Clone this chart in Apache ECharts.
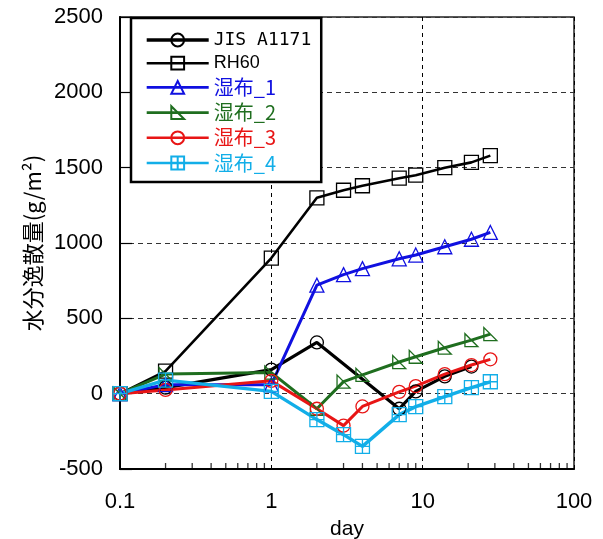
<!DOCTYPE html>
<html>
<head>
<meta charset="utf-8">
<script src="https://cdn.jsdelivr.net/npm/echarts@6/dist/echarts.min.js"></script>
<style>
  html, body { margin: 0; padding: 0; background: #fff; }
  #chart { width: 603px; height: 539px; }
</style>
</head>
<body>
<div id="chart"></div>
<script>
// Elapsed time (day) and moisture loss (g/m2) per specimen
const daysFull = [0.1, 0.2, 1, 2, 3, 4, 7, 9, 14, 21, 28];
const daysJis = [0.1, 0.2, 1, 2, 7, 9, 14, 21];

const jisA1171 = [0, 40, 160, 340, -100, 15, 115, 180];
const rh60 = [0, 150, 900, 1300, 1350, 1380, 1430, 1450, 1500, 1535, 1580];
const shippu1 = [0, 60, 60, 720, 790, 830, 895, 920, 975, 1025, 1070];
const shippu2 = [0, 130, 140, -100, 80, 125, 210, 245, 305, 355, 395];
const shippu3 = [0, 25, 85, -100, -212, -85, 12, 50, 130, 190, 228];
const shippu4 = [0, 90, 15, -172, -272, -350, -139, -86, -20, 40, 79];

const seriesNames = ['JIS A1171', 'RH60', '湿布_1', '湿布_2', '湿布_3', '湿布_4'];

// x-axis decade labels and minor tick positions (2..9 of each decade)
const xTickLabels = [0.1, 1, 10, 100];
const minorTickDays = [0.2, 0.3, 0.4, 0.5, 0.6, 0.7, 0.8, 0.9,
                       2, 3, 4, 5, 6, 7, 8, 9,
                       20, 30, 40, 50, 60, 70, 80, 90];
const yMin = -500, yMax = 2500, yStep = 500;

const pair = (xs, ys) => xs.map((x, i) => [x, ys[i]]);

const numFont = 'Liberation Sans, Arial, sans-serif';
const cjkFont = 'Noto Sans CJK JP, sans-serif';

function lineSeries(name, xs, ys, color, symbol, size, width) {
  return {
    name: name,
    type: 'line',
    data: pair(xs, ys),
    symbol: symbol,
    symbolSize: size,
    showAllSymbol: true,
    clip: false,
    lineStyle: { color: color, width: width },
    itemStyle: { color: 'rgba(0,0,0,0)', borderColor: color, borderWidth: 1.3 },
    emphasis: { disabled: true },
    z: 3
  };
}

function legendItem(name, color, font, size, width) {
  return {
    name: name,
    textStyle: { color: color, fontFamily: font, fontSize: size },
    lineStyle: { width: width }
  };
}

const rightTri = 'path://M0,0L0,10L10,10Z';
const crossSquare = 'path://M0,0H10V10H0Z M5,0V10 M0,5H10';

const chart = echarts.init(document.getElementById('chart'), null, { renderer: 'canvas' });

chart.setOption({
  animation: false,
  backgroundColor: '#fff',
  grid: {
    left: 120, right: 29, top: 17, bottom: 70,
    outerBoundsMode: 'none',
    containLabel: false,
    show: true, borderColor: '#222', borderWidth: 1.5
  },
  legend: {
    orient: 'vertical',
    left: 131, top: 18,
    padding: [13, 10, 9, 14],
    backgroundColor: '#fff',
    borderColor: '#000',
    borderWidth: 2.5,
    borderRadius: 0,
    itemWidth: 62,
    itemHeight: 16,
    itemGap: 5.2,
    itemTextGap: 5,
    z: 10,
    selectedMode: false,
    data: [
      legendItem(seriesNames[0], '#000', 'DejaVu Sans Mono, monospace', 18, 3.4),
      legendItem(seriesNames[1], '#000', numFont, 18, 2.6),
      legendItem(seriesNames[2], '#1010e0', cjkFont, 20, 2.6),
      legendItem(seriesNames[3], '#1f6e1f', cjkFont, 20, 2.6),
      legendItem(seriesNames[4], '#e81515', cjkFont, 20, 2.6),
      legendItem(seriesNames[5], '#12aee8', cjkFont, 20, 2.6)
    ]
  },
  xAxis: {
    type: 'log',
    logBase: 10,
    min: 0.1,
    max: 100,
    name: 'day',
    nameLocation: 'middle',
    nameGap: 50,
    nameTextStyle: { color: '#000', fontFamily: numFont, fontSize: 21 },
    axisLine: { show: true, onZero: false, lineStyle: { color: '#000', width: 2 } },
    axisTick: { show: false },
    axisLabel: {
      color: '#000', fontFamily: numFont, fontSize: 22, margin: 22,
      formatter: v => {
        const hit = xTickLabels.find(t => Math.abs(Math.log10(t) - Math.log10(v)) < 1e-6);
        return hit === undefined ? '' : String(hit);
      }
    },
    splitLine: { show: true, lineStyle: { color: '#000', width: 1, type: [4, 4] } }
  },
  yAxis: {
    type: 'value',
    min: yMin,
    max: yMax,
    interval: yStep,
    name: '水分逸散量(g/m²)',
    nameLocation: 'middle',
    nameGap: 76,
    nameRotate: 90,
    nameTextStyle: { color: '#000', fontFamily: cjkFont, fontSize: 22 },
    axisLine: { show: true, lineStyle: { color: '#000', width: 2 } },
    axisTick: { show: true, inside: true, length: 12, lineStyle: { color: '#000', width: 1.2 } },
    axisLabel: { color: '#000', fontFamily: numFont, fontSize: 22, margin: 17, formatter: v => String(v) },
    splitLine: { show: true, lineStyle: { color: '#333', width: 1, type: [5, 4] } }
  },
  series: [
    {
      name: 'minor ticks',
      type: 'scatter',
      data: minorTickDays.map(d => [d, yMin]),
      symbol: 'rect',
      symbolSize: [1.3, 6],
      symbolOffset: [0, -3],
      itemStyle: { color: '#000' },
      silent: true,
      clip: false,
      z: 2
    },
    lineSeries(seriesNames[0], daysJis, jisA1171, '#000', 'circle', 13, 3.2),
    lineSeries(seriesNames[1], daysFull, rh60, '#000', 'rect', 14, 2.6),
    lineSeries(seriesNames[2], daysFull, shippu1, '#1010e0', 'triangle', 14, 3),
    lineSeries(seriesNames[3], daysFull, shippu2, '#1f6e1f', rightTri, 13, 3),
    lineSeries(seriesNames[4], daysFull, shippu3, '#e81515', 'circle', 13, 3),
    lineSeries(seriesNames[5], daysFull, shippu4, '#12aee8', crossSquare, 14, 3.4)
  ]
});
</script>
</body>
</html>
